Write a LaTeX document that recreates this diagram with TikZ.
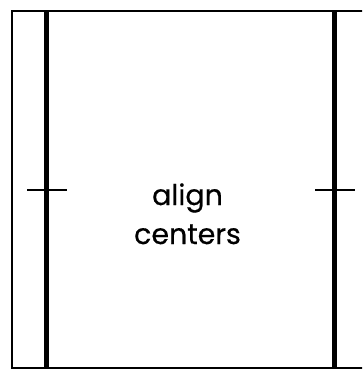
\documentclass[tikz,border=0pt]{standalone}
\usepackage{fontspec}
\setmainfont{Poppins}[FakeBold=0.5]
\begin{document}
\begin{tikzpicture}[x=1pt,y=-1pt,
  frame/.style={draw=black,line width=2pt},
  rail/.style={draw=black,line width=5pt},
  tick/.style={draw=black,line width=2pt},
  lbl/.style={font=\fontsize{28.5}{34}\selectfont,inner sep=0pt,anchor=base}]
\useasboundingbox (0,0) rectangle (362,369);
\clip (0,0) rectangle (362,369);
\coordinate (tl) at (12,11);
\coordinate (br) at (366,367.5);
\draw[frame] (tl) rectangle (br);
\coordinate (lt) at (46,11);
\coordinate (lb) at (46,367.5);
\coordinate (rt) at (334.5,11);
\coordinate (rb) at (334.5,367.5);
\draw[rail] (lt) -- (lb);
\draw[rail] (rt) -- (rb);
\coordinate (lta) at (27,190);
\coordinate (ltb) at (67,190);
\coordinate (rta) at (315,190);
\coordinate (rtb) at (355,190);
\draw[tick] (lta) -- (ltb);
\draw[tick] (rta) -- (rtb);
\node[lbl] (l1) at (187.5,205) {align};
\node[lbl] (l2) at (187.5,244) {centers};
\end{tikzpicture}
\end{document}
